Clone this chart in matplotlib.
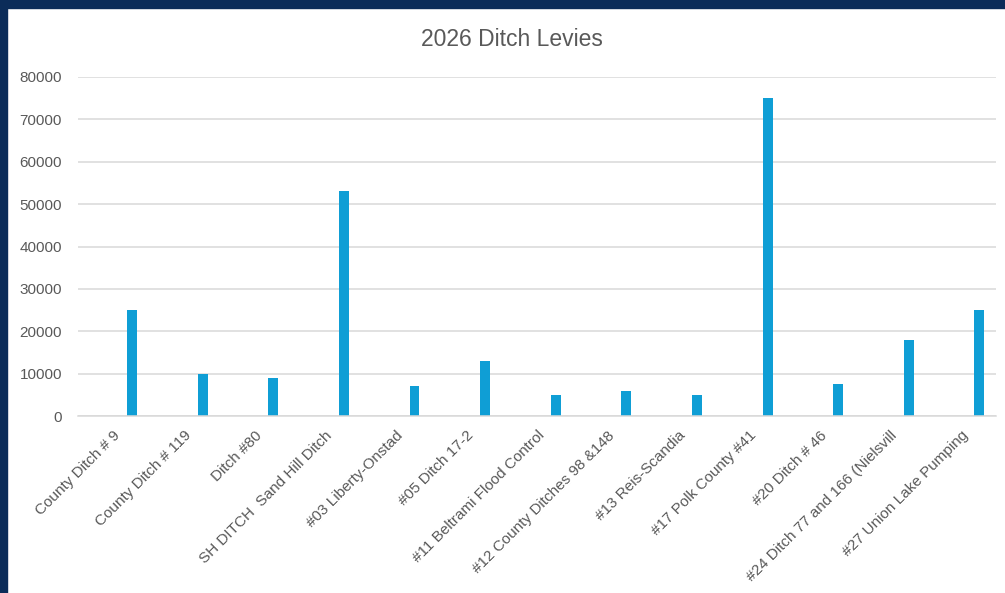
import matplotlib
matplotlib.use('Agg')
import matplotlib.pyplot as plt
import numpy as np
from matplotlib.patches import Rectangle

# data
ditches = ['County Ditch # 9', 'County Ditch # 119', 'Ditch #80',
           'SH DITCH  Sand Hill Ditch', '#03 Liberty-Onstad', '#05 Ditch 17-2',
           '#11 Beltrami Flood Control', '#12 County Ditches 98 &148',
           '#13 Reis-Scandia', '#17 Polk County #41', '#20 Ditch # 46',
           '#24 Ditch 77 and 166 (Nielsvill', '#27 Union Lake Pumping']
levies = [25000, 10000, 9000, 53000, 7000, 13000, 5000, 6000, 5000,
          75000, 7500, 18000, 25000]
yticks = [0, 10000, 20000, 30000, 40000, 50000, 60000, 70000, 80000]

plt.rcParams['font.family'] = ['Liberation Sans', 'DejaVu Sans']
txt_col = '#595959'
grid_col = '#D9D9D9'

W, H = 1005, 593
fig = plt.figure(figsize=(W / 100, H / 100), dpi=100)
fig.patch.set_facecolor('white')

# navy frame on top and left edge
fig.patches.append(Rectangle((0, 1 - 8 / H), 1, 8 / H, transform=fig.transFigure,
                             color='#0B2C59', zorder=0))
fig.patches.append(Rectangle((0, 0), 7 / W, 1, transform=fig.transFigure,
                             color='#0B2C59', zorder=0))

ax = fig.add_axes([78 / W, (H - 416) / H, (996 - 78) / W, (416 - 77) / H])
x = np.arange(len(ditches))
ax.bar(x + 0.265, levies, width=0.14, color='#0F9ED5', zorder=3)

ax.set_xlim(-0.5, len(ditches) - 0.5)
ax.set_ylim(0, 80000)
ax.set_yticks(yticks)
ax.set_yticklabels([str(v) for v in yticks])
ax.yaxis.grid(True, color=grid_col, linewidth=1.1)
ax.set_axisbelow(True)
for s in ['top', 'right', 'left']:
    ax.spines[s].set_visible(False)
ax.spines['bottom'].set_color(grid_col)
ax.spines['bottom'].set_linewidth(1.1)
ax.spines['bottom'].set_zorder(4)

ax.tick_params(axis='both', length=0, colors=txt_col, labelsize=11)
ax.tick_params(axis='y', pad=11.5)
ax.set_xticks(x)
ax.set_xticklabels(ditches, rotation=45, ha='right', va='top',
                   rotation_mode='anchor')
ax.tick_params(axis='x', pad=9)

fig.text(512 / W, 1 - 40 / H, '2026 Ditch Levies', ha='center', va='center',
         fontsize=16.5, color=txt_col)

fig.savefig('out.png', dpi=100)
